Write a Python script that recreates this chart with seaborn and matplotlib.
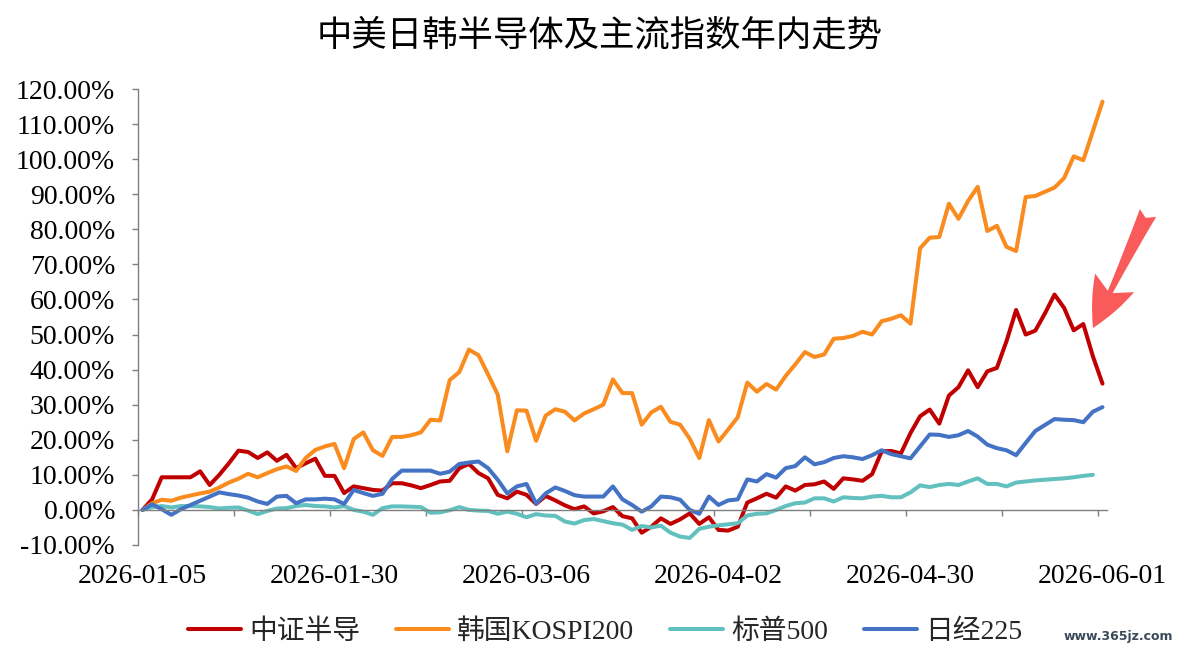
"""
中美日韩半导体及主流指数年内走势 -- line chart of YTD returns (%).
Saves out.png (1182x654).
"""
import numpy as np
import pandas as pd
import matplotlib.pyplot as plt
import seaborn as sns

sns.set_theme(style="white")
plt.rcParams['font.family'] = ['Liberation Serif', 'Noto Sans CJK SC', 'DejaVu Sans']
plt.rcParams['axes.unicode_minus'] = False

TITLE = "中美日韩半导体及主流指数年内走势"
SERIES = ["中证半导", "韩国KOSPI200", "标普500", "日经225"]
COLORS = ["#C00000", "#F98B1F", "#62C1BF", "#4472C4"]
TICK_LABELS = ["2026-01-05", "2026-01-30", "2026-03-06",
               "2026-04-02", "2026-04-30", "2026-06-01"]

# values in %, one per trading day (101 days)
csi_semi = [
    0, 3.0, 9.3, 9.3, 9.3, 9.3, 11.0, 7.1, 10.0, 13.3,
    16.9, 16.5, 14.8, 16.4, 14.0, 15.7, 11.9, 13.3, 14.6, 9.7,
    9.7, 4.8, 6.7, 6.2, 5.7, 5.5, 7.6, 7.6, 7.0, 6.2,
    7.1, 8.1, 8.3, 11.9, 13.1, 10.5, 9.0, 4.3, 3.3, 5.2,
    4.3, 1.7, 4.0, 2.7, 1.3, 0.2, 1.0, -1.0, -0.4, 0.8,
    -1.8, -2.4, -6.5, -4.8, -2.4, -4.0, -2.7, -1.0, -4.0, -2.1,
    -5.7, -5.9, -4.8, 2.1, 3.3, 4.6, 3.5, 6.7, 5.5, 7.1,
    7.3, 8.1, 6.0, 9.0, 8.7, 8.3, 10.2, 16.7, 16.8, 16.1,
    21.9, 26.7, 28.6, 24.6, 32.6, 35.0, 39.8, 35.0, 39.5, 40.5,
    48.1, 57.0, 50.0, 51.1, 56.0, 61.4, 57.6, 51.2, 53.0, 43.8,
    36.0,
]
kospi200 = [
    0, 1.9, 2.9, 2.6, 3.5, 4.1, 4.7, 5.2, 6.4, 7.8,
    8.9, 10.3, 9.3, 10.5, 11.6, 12.4, 11.1, 14.8, 17.1, 18.1,
    18.8, 11.9, 20.2, 22.1, 17.0, 15.4, 20.8, 20.8, 21.3, 22.1,
    25.7, 25.5, 37.0, 39.3, 45.7, 44.1, 38.6, 32.9, 16.7, 28.4,
    28.3, 19.7, 26.9, 28.7, 28.0, 25.5, 27.5, 28.7, 30.0, 37.2,
    33.3, 33.3, 24.3, 27.8, 29.4, 25.1, 24.3, 20.3, 14.8, 25.6,
    19.5, 22.9, 26.4, 36.3, 33.7, 35.9, 34.3, 38.2, 41.5, 45.0,
    43.6, 44.3, 48.8, 49.0, 49.6, 50.8, 50.0, 53.8, 54.5, 55.5,
    53.1, 74.6, 77.6, 77.8, 87.3, 83.0, 88.1, 92.1, 79.5, 81.0,
    75.0, 73.8, 89.2, 89.5, 90.7, 91.9, 94.6, 100.8, 99.7, 108.0,
    116.4,
]
sp500 = [
    0, 0.8, 1.1, 0.7, 1.1, 1.1, 1.0, 0.8, 0.4, 0.6,
    0.7, -0.2, -1.2, -0.3, 0.4, 0.5, 1.1, 1.4, 1.1, 1.0,
    0.7, 1.1, 0.0, -0.5, -1.4, 0.5, 1.0, 1.0, 0.9, 0.8,
    -0.8, -0.7, -0.1, 0.8, 0.0, -0.2, -0.3, -1.1, -0.5, -1.1,
    -2.1, -1.2, -1.6, -1.7, -3.3, -3.9, -2.9, -2.6, -3.2, -3.8,
    -4.2, -5.7, -4.6, -5.0, -4.5, -6.5, -7.6, -8.0, -5.4, -4.8,
    -4.4, -4.1, -3.8, -1.6, -1.1, -1.0, 0.0, 1.1, 1.9, 2.1,
    3.3, 3.3, 2.4, 3.6, 3.4, 3.3, 3.8, 4.0, 3.6, 3.6,
    5.0, 7.0, 6.5, 7.1, 7.4, 7.1, 8.1, 9.0, 7.4, 7.4,
    6.7, 7.8, 8.1, 8.4, 8.6, 8.8, 9.0, 9.3, 9.7, 10.0,
    np.nan,
]
nikkei225 = [
    0, 1.6, 0.2, -1.4, 0.2, 1.4, 2.6, 3.8, 5.0, 4.5,
    4.1, 3.5, 2.4, 1.7, 3.8, 4.0, 1.9, 3.0, 3.0, 3.2,
    3.0, 1.7, 5.7, 4.8, 4.0, 4.6, 8.8, 11.2, 11.2, 11.2,
    11.2, 10.3, 10.9, 13.1, 13.5, 13.8, 11.9, 8.6, 4.7, 6.7,
    7.4, 1.8, 4.7, 6.4, 5.4, 4.2, 3.8, 3.8, 3.8, 6.7,
    3.0, 1.4, -0.5, 1.0, 3.8, 3.6, 2.9, 0.0, -1.1, 3.8,
    1.4, 2.7, 3.0, 8.7, 8.1, 10.2, 9.2, 11.9, 12.5, 15.0,
    13.0, 13.6, 14.8, 15.3, 15.0, 14.5, 15.6, 17.0, 15.9, 15.3,
    14.7, 18.1, 21.5, 21.4, 20.8, 21.3, 22.5, 20.9, 18.6, 17.6,
    17.0, 15.6, 19.1, 22.5, 24.2, 25.9, 25.7, 25.6, 25.0, 28.0,
    29.3,
]


def plot_trend():
    n = len(csi_semi)
    day = np.arange(n)
    df = pd.concat([
        pd.DataFrame({"day": day, "pct": vals, "series": name})
        for name, vals in zip(SERIES, [csi_semi, kospi200, sp500, nikkei225])
    ]).dropna()

    fig = plt.figure(figsize=(11.82, 6.54), dpi=100)
    ax = fig.add_axes([0.1165, 0.1667, 0.8203, 0.6972])

    sns.lineplot(data=df, x="day", y="pct", hue="series", hue_order=SERIES,
                 palette=COLORS, linewidth=2.9, ax=ax, legend=True)

    ax.set_xlim(-0.5, n - 0.5)
    ax.set_ylim(-10, 120)
    ax.set_xlabel("")
    ax.set_ylabel("")

    axis_grey = "#7F7F7F"
    for side in ["top", "right"]:
        ax.spines[side].set_visible(False)
    ax.spines["left"].set_color(axis_grey)
    ax.spines["left"].set_linewidth(1.0)
    ax.spines["bottom"].set_position(("data", 0))
    ax.spines["bottom"].set_color(axis_grey)
    ax.spines["bottom"].set_linewidth(1.0)

    # y axis: percent labels
    ax.set_yticks(np.arange(-10, 121, 10))
    ax.set_yticklabels([f"{v:.2f}%" for v in np.arange(-10, 121, 10)])
    ax.tick_params(axis="y", left=True, direction="out", length=4.3, width=1.0,
                   color=axis_grey, pad=12, labelsize=20, labelcolor="black")

    # x axis: tick marks every 10 days on the zero line, labels every 20 at bottom
    ax.set_xticks(np.arange(-0.5, n, 10))
    ax.set_xticklabels([])
    ax.tick_params(axis="x", bottom=True, direction="out", length=4.3, width=1.0,
                   color=axis_grey)
    sec = ax.secondary_xaxis("bottom")
    sec.set_xticks(np.arange(0, n, 20))
    sec.set_xticklabels(TICK_LABELS)
    sec.tick_params(length=0, pad=14, labelsize=20, labelcolor="black")
    sec.spines["bottom"].set_visible(False)

    # legend at the bottom
    handles, labels = ax.get_legend_handles_labels()
    ax.get_legend().remove()
    fig.legend(handles, labels, loc="center", bbox_to_anchor=(0.512, 0.034),
               ncol=4, frameon=False, fontsize=20, handlelength=1.9,
               handletextpad=0.3, columnspacing=1.3)

    fig.text(0.507, 0.946, TITLE, ha="center", va="center", fontsize=25.5,
             family=["Noto Sans CJK SC", "DejaVu Sans"], color="black")

    # red pointer arrow
    ax.annotate("", xy=(1093, 326), xytext=(1148, 441), xycoords="figure pixels",
                textcoords="figure pixels",
                arrowprops=dict(arrowstyle="fancy,head_length=1.8,head_width=1.55,tail_width=0.65",
                                color="#F95A5A", shrinkA=0, shrinkB=0,
                                mutation_scale=20, lw=0))

    fig.text(0.946, 0.027, "www.365jz.com", ha="center", va="center", fontsize=9,
             family=["DejaVu Sans"], weight="bold", color="#3A4A5A")

    fig.savefig("out.png", dpi=100)
    plt.close(fig)


if __name__ == "__main__":
    plot_trend()
